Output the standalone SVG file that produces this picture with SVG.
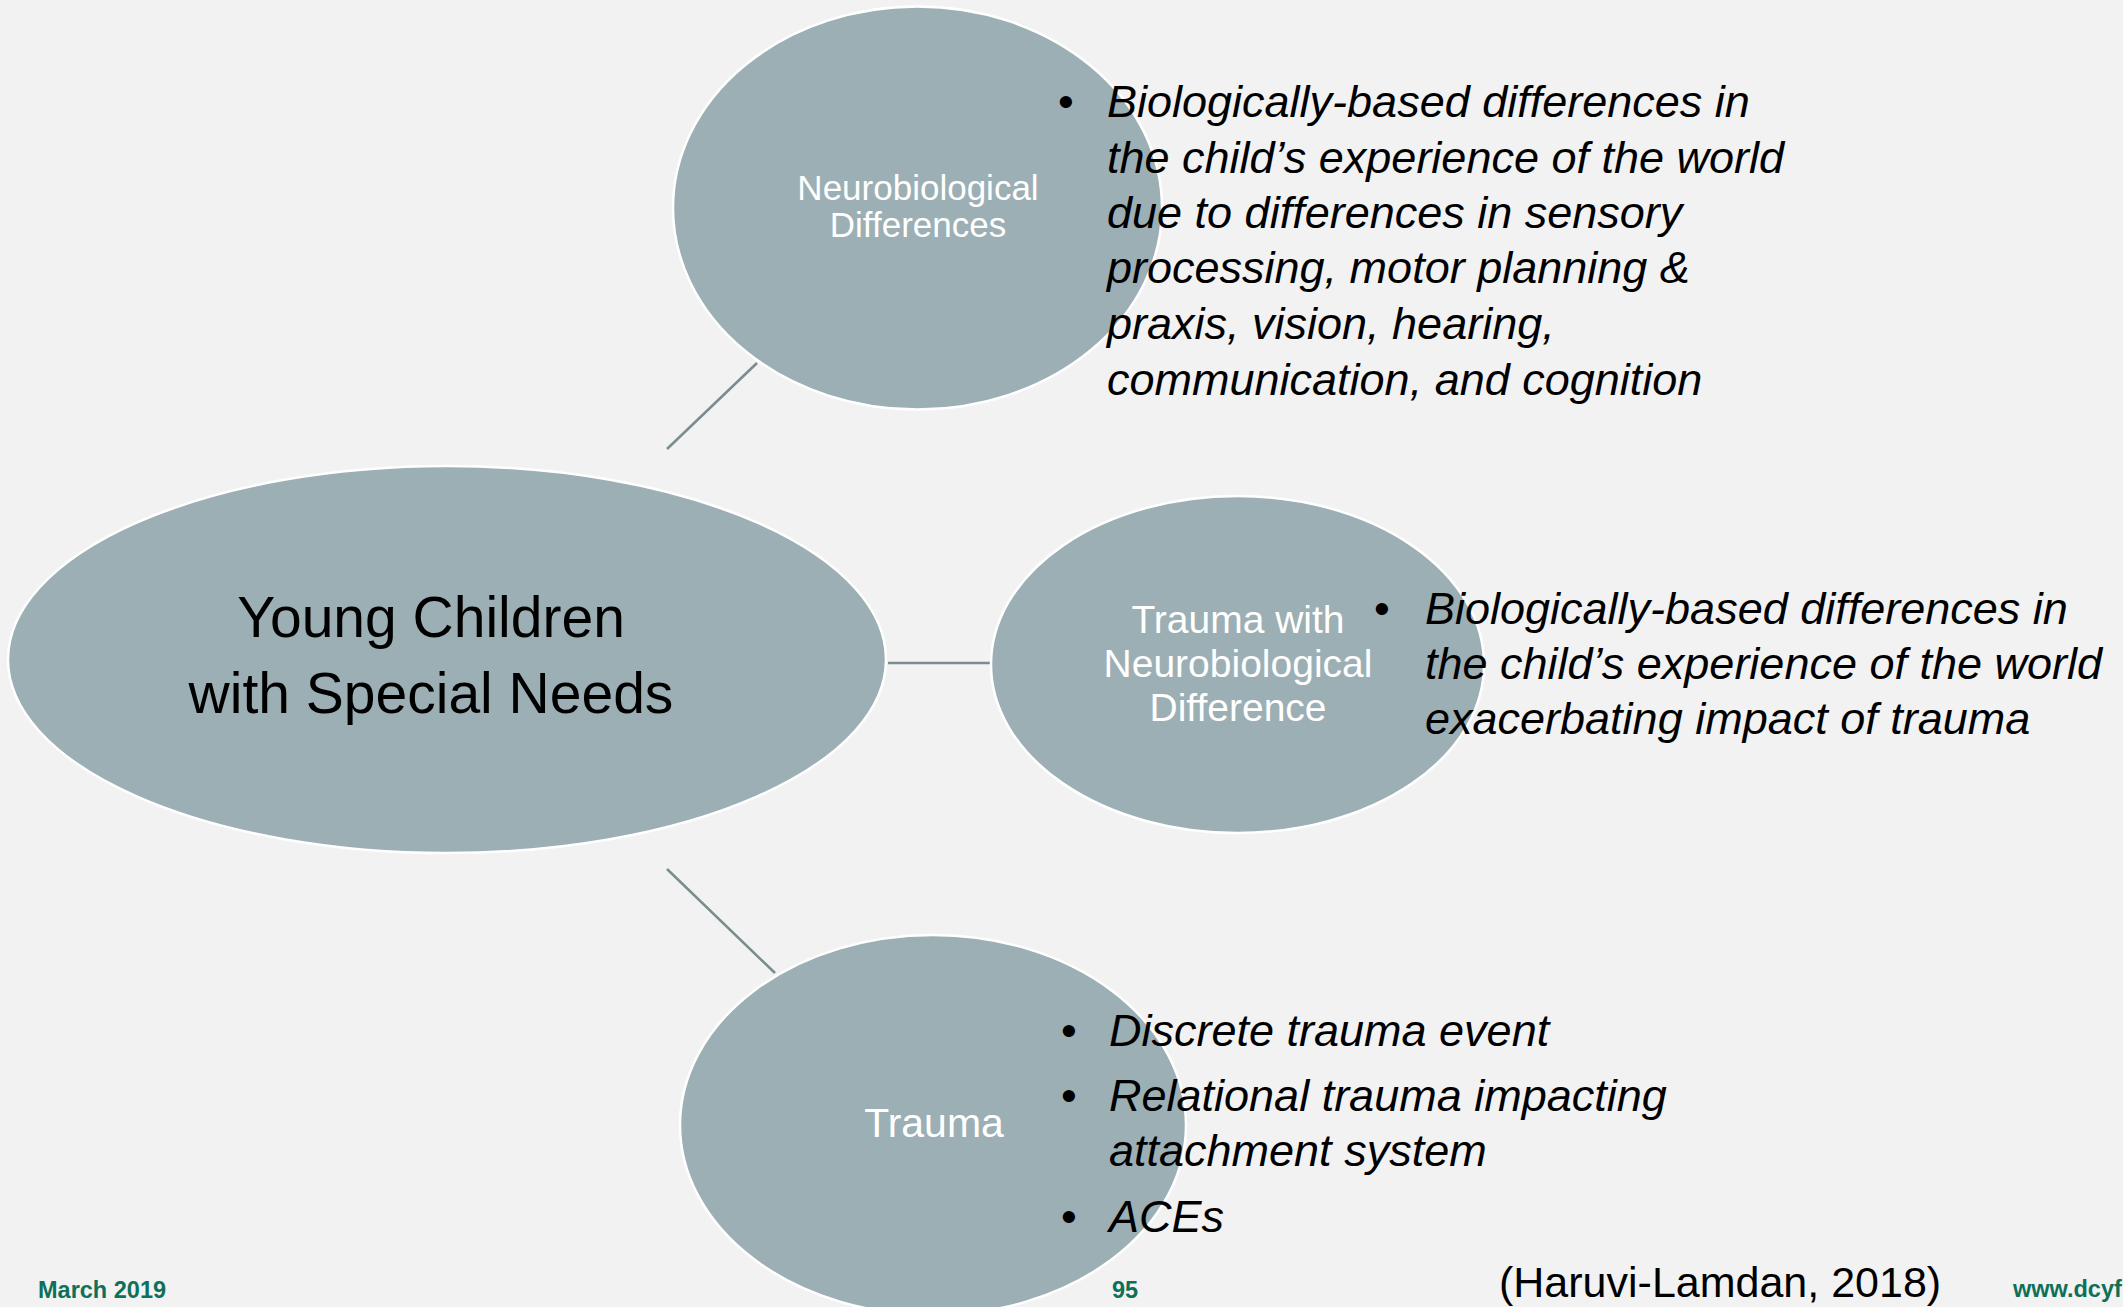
<svg xmlns="http://www.w3.org/2000/svg" width="2123" height="1307" viewBox="0 0 2123 1307">
<style>
.node{fill:#9cafb4;stroke:#ffffff;stroke-width:2.5}
.conn{stroke:#7a8c90;stroke-width:2.5;fill:none}
.lbl{font-family:"Liberation Sans",Arial,sans-serif;fill:#ffffff;text-anchor:middle}
.main{font-family:"Liberation Sans",Arial,sans-serif;fill:#000000;text-anchor:middle;font-size:57px}
.bul{font-family:"Liberation Sans",Arial,sans-serif;font-style:italic;font-size:45px;fill:#000000}
.dot{font-family:"Liberation Sans",Arial,sans-serif;font-size:45px;fill:#000000}
.foot{font-family:"Liberation Sans",Arial,sans-serif;font-weight:bold;font-size:23.5px;fill:#0e7058}
.cite{font-family:"Liberation Sans",Arial,sans-serif;font-size:43px;fill:#000000}
</style>
<rect x="0" y="0" width="2123" height="1307" fill="#f2f2f2"/>
<g id="connectors">
<line class="conn" x1="757" y1="363" x2="667" y2="449"/>
<line class="conn" x1="888" y1="663" x2="990" y2="663"/>
<line class="conn" x1="667" y1="869" x2="775" y2="973"/>
</g>
<g id="node-center">
<ellipse class="node" cx="447" cy="659.5" rx="439" ry="193.5"/>
<text class="main" x="431" y="637">Young Children</text>
<text class="main" x="431" y="713">with Special Needs</text>
</g>
<g id="node-neuro">
<ellipse class="node" cx="917.5" cy="208" rx="244.5" ry="201.5"/>
<text class="lbl" font-size="35" x="918" y="200">Neurobiological</text>
<text class="lbl" font-size="35" x="918" y="237">Differences</text>
</g>
<g id="node-trauma-neuro">
<ellipse class="node" cx="1237.5" cy="664.5" rx="246.5" ry="168.5"/>
<text class="lbl" font-size="39" x="1238" y="633">Trauma with</text>
<text class="lbl" font-size="39" x="1238" y="677">Neurobiological</text>
<text class="lbl" font-size="39" x="1238" y="721">Difference</text>
</g>
<g id="node-trauma">
<ellipse class="node" cx="933" cy="1125" rx="253" ry="190"/>
<text class="lbl" font-size="41" x="934" y="1137">Trauma</text>
</g>
<g id="text-neuro">
<text class="dot" x="1058" y="117">•</text>
<text class="bul" x="1107" y="117">Biologically-based differences in</text>
<text class="bul" x="1107" y="173">the child’s experience of the world</text>
<text class="bul" x="1107" y="228">due to differences in sensory</text>
<text class="bul" x="1107" y="283">processing, motor planning &amp;</text>
<text class="bul" x="1107" y="339">praxis, vision, hearing,</text>
<text class="bul" x="1107" y="395">communication, and cognition</text>
</g>
<g id="text-trauma-neuro">
<text class="dot" x="1374" y="624">•</text>
<text class="bul" x="1425" y="624">Biologically-based differences in</text>
<text class="bul" x="1425" y="679">the child’s experience of the world</text>
<text class="bul" x="1425" y="734">exacerbating impact of trauma</text>
</g>
<g id="text-trauma">
<text class="dot" x="1061" y="1046">•</text>
<text class="bul" x="1109" y="1046">Discrete trauma event</text>
<text class="dot" x="1061" y="1111">•</text>
<text class="bul" x="1109" y="1111">Relational trauma impacting</text>
<text class="bul" x="1109" y="1166">attachment system</text>
<text class="dot" x="1061" y="1232">•</text>
<text class="bul" x="1109" y="1232">ACEs</text>
</g>
<g id="footer">
<text class="foot" x="38" y="1298">March 2019</text>
<text class="foot" x="1112" y="1298">95</text>
<text class="cite" x="1499" y="1297">(Haruvi-Lamdan, 2018)</text>
<text class="foot" x="2013" y="1297">www.dcyf</text>
</g>
</svg>
